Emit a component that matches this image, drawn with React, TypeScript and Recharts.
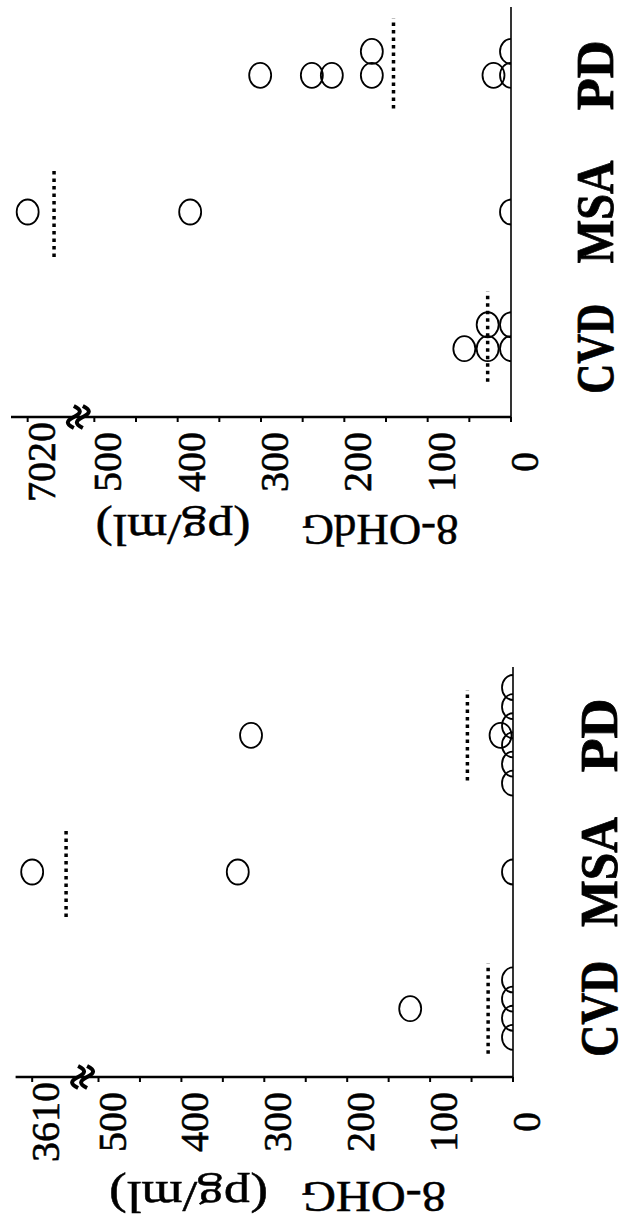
import React from 'react';
import { ScatterChart, Scatter, XAxis, YAxis, ReferenceLine, ReferenceDot } from 'recharts';

// ---------- data ----------
const CATEGORIES = ['CVD', 'MSA', 'PD'];
const VALUE_TICKS = [0, 50, 100, 150, 200, 250, 300, 350, 400, 450, 500];
const BREAK_FROM = 500;

// 8-OHG panel
const OHG_TITLE = ['8-OHG', '(pg/ml)'];
const OHG_TOP_TICK = 3610;
const OHG_CVD = [124, 0, 0, 0, 0];
const OHG_MSA = [3610, 332, 0];
const OHG_PD = [316, 15, 0, 0, 0, 0, 0, 0];
const OHG_MEANS = [30, 1314, 55];

// 8-OHdG panel
const OHDG_TITLE = ['8-OHdG', '(pg/ml)'];
const OHDG_TOP_TICK = 7020;
const OHDG_CVD = [56, 28, 28, 0, 0];
const OHDG_MSA = [7020, 385, 0];
const OHDG_PD = [301, 239, 215, 167, 167, 21, 0, 0];
const OHDG_MEANS = [28, 2468, 141];

// ---------- scale helpers ----------
const BREAK_POS = 580; // axis position of the top (broken) tick
const display = (v: number, top: number) =>
  v <= BREAK_FROM ? v : BREAK_FROM + (BREAK_POS - BREAK_FROM) * Math.log(v / BREAK_FROM) / Math.log(top / BREAK_FROM);

type Layout = {
  left: number; width: number; marginTop: number; marginRight: number; xAxisHeight: number;
  step: number; centered: boolean;
  titleBaseline: number; titleOffsets: number[]; titleLengths: number[];
  catBaseline: number; catLengths: number[];
};

const buildPoints = (groups: number[][], top: number, L: Layout) => {
  const pts: { x: number; y: number }[] = [];
  const centers: number[] = [];
  groups.forEach((vals, gi) => {
    const counts: Record<number, number> = {};
    vals.forEach((v) => (counts[v] = (counts[v] || 0) + 1));
    const seen: Record<number, number> = {};
    const offs: number[] = [];
    vals.forEach((v) => {
      const k = seen[v] || 0;
      seen[v] = k + 1;
      const off = L.centered ? (k - (counts[v] - 1) / 2) * L.step : k * L.step;
      offs.push(off);
      pts.push({ x: gi + 1 + off, y: display(v, top) });
    });
    centers.push(gi + 1 + (Math.min(...offs) + Math.max(...offs)) / 2);
  });
  return { pts, centers };
};

const FONT = 'Liberation Serif';

const Ellipse = (p: any) => (
  <ellipse cx={p.cx} cy={p.cy} rx={12.5} ry={11} fill="none" stroke="#000" strokeWidth={1.8} />
);

const BreakMark = (p: any) => {
  const { cx, cy } = p;
  return (
    <g>
      <path d={`M ${cx - 11} ${cy - 3} c 4 -8 7 -8 11 0 s 7 8 11 0`} fill="none" stroke="#000" strokeWidth={4} />
      <path d={`M ${cx - 11} ${cy + 6} c 4 -8 7 -8 11 0 s 7 8 11 0`} fill="none" stroke="#000" strokeWidth={4} />
    </g>
  );
};

const Panel = ({ groups, means, top, title, L }: { groups: number[][]; means: number[]; top: number; title: string[]; L: Layout }) => {
  const { pts, centers } = buildPoints(groups, top, L);
  const height = 644;
  const ValTick = (p: any) => {
    const v = p.payload.value;
    const txt = v === BREAK_POS ? String(top) : v % 100 === 0 ? String(v) : '';
    return (
      <text x={p.x} y={p.y + 27} textAnchor="middle" fontFamily={FONT} fontSize={40} fill="#000"
        stroke="#000" strokeWidth={0.6}>{txt}</text>
    );
  };
  const CatTick = (p: any) => {
    const i = Math.round(p.payload.value) - 1;
    return (
      <text x={p.x} y={p.y + L.catBaseline} textAnchor="middle" fontFamily={FONT} fontWeight="bold" fontSize={52}
        textLength={L.catLengths[i]} lengthAdjust="spacingAndGlyphs" fill="#000" stroke="#000" strokeWidth={0.8}>{CATEGORIES[i]}</text>
    );
  };
  const Title = (p: any) => {
    const vb = p.viewBox;
    const x = vb.x + L.titleBaseline;
    const bottom = vb.y + vb.height;
    return (
      <g>
        {title.map((t, i) => {
          const y = bottom + L.titleOffsets[i];
          return (
            <text key={i} x={x} y={y} transform={`rotate(-90, ${x}, ${y})`} textAnchor="middle" fontFamily={FONT}
              fontSize={44} textLength={L.titleLengths[i]} lengthAdjust="spacingAndGlyphs" fill="#000"
              stroke="#000" strokeWidth={0.5}>{t}</text>
          );
        })}
      </g>
    );
  };
  return (
    <div style={{ position: 'absolute', left: L.left, top: 0 }}>
      <ScatterChart width={L.width} height={height} margin={{ top: L.marginTop, right: L.marginRight, bottom: 0, left: 0 }}>
        <XAxis type="number" dataKey="x" domain={[0.5, 3.5]} ticks={[1, 2, 3]} interval={0} allowDataOverflow
          height={L.xAxisHeight} tickSize={0} tickMargin={0} tickLine={false}
          axisLine={{ stroke: '#000', strokeWidth: 1.6 }} tick={<CatTick />} />
        <YAxis type="number" dataKey="y" domain={[0, 600]} ticks={[...VALUE_TICKS, BREAK_POS]} interval={0} allowDataOverflow
          width={143} tickSize={5} tickMargin={40} tickLine={{ stroke: '#000', strokeWidth: 2 }}
          axisLine={{ stroke: '#000', strokeWidth: 2.6 }} tick={<ValTick />} label={{ content: <Title /> } as any} />
        {means.map((m, i) => (
          <ReferenceLine key={i} ifOverflow="visible"
            segment={[{ x: centers[i] - 0.33, y: display(m, top) }, { x: centers[i] + 0.33, y: display(m, top) }]}
            stroke="#000" strokeWidth={3.5} strokeDasharray="3.5 4" />
        ))}
        <Scatter data={pts} shape={<Ellipse />} isAnimationActive={false} />
        <ReferenceDot x={0.5} y={521} ifOverflow="visible" shape={<BreakMark />} />
      </ScatterChart>
    </div>
  );
};

const LEFT_LAYOUT: Layout = {
  left: 0, width: 660, marginTop: 15.6, marginRight: 107, xAxisHeight: 131,
  step: 0.14, centered: true,
  titleBaseline: 38, titleOffsets: [-139.5, -324.5], titleLengths: [145, 159],
  catBaseline: 104, catLengths: [96, 110, 74],
};

const RIGHT_LAYOUT: Layout = {
  left: 660, width: 560, marginTop: 11, marginRight: 7, xAxisHeight: 133,
  step: 0.175, centered: false,
  titleBaseline: 45, titleOffsets: [-131, -338], titleLengths: [157, 155],
  catBaseline: 102, catLengths: [90, 103, 70],
};

export default function App() {
  return (
    <div style={{ position: 'absolute', left: 0, top: 0, width: 644, height: 1220, overflow: 'hidden', background: '#fff' }}>
      <div style={{ position: 'absolute', left: 0, top: 0, width: 1220, height: 644, transformOrigin: '0 0', transform: 'translate(0px, 1220px) rotate(-90deg)' }}>
        <Panel groups={[OHG_CVD, OHG_MSA, OHG_PD]} means={OHG_MEANS} top={OHG_TOP_TICK} title={OHG_TITLE} L={LEFT_LAYOUT} />
        <Panel groups={[OHDG_CVD, OHDG_MSA, OHDG_PD]} means={OHDG_MEANS} top={OHDG_TOP_TICK} title={OHDG_TITLE} L={RIGHT_LAYOUT} />
      </div>
    </div>
  );
}
